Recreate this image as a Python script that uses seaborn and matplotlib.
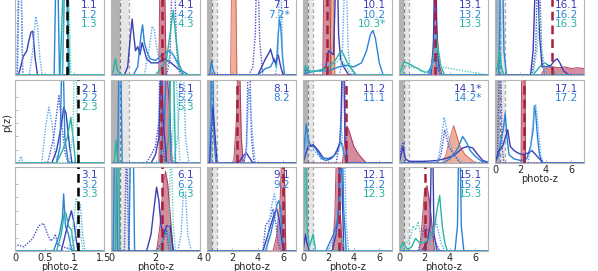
import numpy as np
import pandas as pd
import matplotlib
matplotlib.use("Agg")
import matplotlib.pyplot as plt
import seaborn as sns

sns.set_theme(style="white")
plt.rcParams['font.family'] = ['DejaVu Sans']

# ---------------- data: p(z) curves per panel (key = source.code + variant) ----------------
panel_1 = {
    "1.1a": ([0, 0.06, 0.14, 0.2, 0.23, 0.27, 0.30, 0.34, 0.38, 1.5], [0, 0, 0.23, 0.3, 0.41, 0.53, 0.54, 0.2, 0, 0]),
    "1.1b": ([0, 0.04, 0.07, 0.1, 0.13, 1.5], [0, 0, 1.3, 1.3, 0, 0]),
    "1.2b": ([0, 0.03, 0.06, 0.1, 0.13, 0.24, 0.3, 0.35, 0.38, 0.42, 0.46, 1.5], [0, 0, 1.3, 1.3, 0, 0, 0.3, 0.72, 0.6, 0.2, 0, 0]),
    "1.2a": ([0, 0.66, 0.69, 0.72, 0.75, 0.8, 0.84, 0.87, 0.9, 1.5], [0, 0, 1.3, 1.3, 0, 0, 1.3, 1.3, 0, 0]),
    "1.3a": ([0, 0.76, 0.82, 0.88, 0.92, 1.5], [0, 0, 1.3, 1.3, 0, 0]),
    "1.3b": ([0, 0.8, 0.84, 0.9, 0.94, 1.5], [0, 0, 1.3, 1.3, 0, 0]),
}
panel_2 = {
    "2.2b": ([0, 0.06, 0.1, 0.14, 0.2, 0.45, 0.52, 0.57, 0.62, 0.68, 0.72, 1.5], [0, 0, 0.08, 0, 0, 0, 0.45, 0.67, 0.5, 0.1, 0, 0]),
    "2.1b": ([0, 0.55, 0.65, 0.74, 0.78, 0.85, 0.9, 1.5], [0, 0, 0.3, 0.81, 0.5, 0.1, 0, 0]),
    "2.1a": ([0, 0.62, 0.7, 0.78, 0.82, 0.86, 0.92, 0.96, 1.5], [0, 0, 0.15, 0.45, 0.67, 0.6, 0.2, 0, 0]),
    "2.2a": ([0, 0.7, 0.76, 0.79, 0.81, 0.84, 0.9, 1.5], [0, 0, 0.2, 1.3, 1.3, 0.3, 0, 0]),
    "2.3a": ([0, 0.7, 0.8, 0.88, 0.94, 0.98, 1.02, 1.5], [0, 0, 0.15, 0.3, 0.55, 0.3, 0, 0]),
    "2.3b": ([0, 0.92, 0.98, 1.0, 1.03, 1.06, 1.5], [0, 0, 0.4, 1.3, 1.3, 0, 0]),
}
panel_3 = {
    "3.1b": ([0, 0.05, 0.15, 0.3, 0.4, 0.48, 0.55, 0.6, 0.65, 0.68, 0.72, 0.8, 0.9, 1.0, 1.5],
             [0.05, 0.07, 0.05, 0.15, 0.3, 0.33, 0.2, 0.12, 0.15, 0.2, 0.08, 0.05, 0.03, 0, 0]),
    "3.2a": ([0, 0.65, 0.75, 0.8, 0.82, 0.85, 0.9, 0.96, 1.5], [0, 0, 0.2, 0.4, 0.68, 0.3, 0.2, 0, 0]),
    "3.1a": ([0, 0.78, 0.85, 0.9, 0.95, 0.99, 1.02, 1.06, 1.5], [0, 0, 0.2, 0.35, 0.48, 0.35, 0.2, 0, 0]),
    "3.3a": ([0, 0.7, 0.78, 0.83, 0.86, 0.9, 0.95, 1.0, 1.5], [0, 0, 0.2, 0.45, 0.45, 0.3, 0.25, 0, 0]),
    "3.3b": ([0, 0.9, 0.98, 1.03, 1.06, 1.1, 1.15, 1.5], [0, 0, 0.3, 0.62, 0.55, 0.2, 0, 0]),
    "3.2b": ([0, 0.95, 1.02, 1.07, 1.1, 1.14, 1.18, 1.5], [0, 0, 0.2, 0.5, 0.55, 0.2, 0, 0]),
}
panel_4 = {
    "4.1a": ([0, 0.6, 0.75, 0.88, 0.95, 1.02, 1.1, 1.2, 1.3, 1.4, 1.5, 1.6, 1.8, 2.1, 2.4, 2.7, 3.0, 3.3, 4],
             [0, 0, 0.1, 0.5, 0.69, 0.5, 0.3, 0.35, 0.25, 0.4, 0.3, 0.2, 0.15, 0.15, 0.2, 0.15, 0.08, 0, 0]),
    "4.2a": ([0, 1.0, 1.2, 1.35, 1.42, 1.5, 1.6, 1.75, 2.0, 2.3, 2.6, 2.8, 3.0, 3.2, 3.5, 4],
             [0, 0, 0.1, 0.5, 0.62, 0.4, 0.3, 0.2, 0.18, 0.25, 0.3, 0.25, 0.15, 0.05, 0, 0]),
    "4.2b": ([0, 1.5, 1.7, 1.85, 1.95, 2.05, 2.2, 2.4, 4], [0, 0, 0.3, 0.6, 0.55, 0.35, 0.15, 0, 0]),
    "4.1b": ([0, 2.5, 2.65, 2.75, 2.85, 2.95, 3.1, 4], [0, 0, 0.2, 1.3, 1.3, 0.3, 0, 0]),
    "4.3a": ([0, 0.1, 0.2, 0.3, 0.5, 2.0, 2.3, 2.5, 2.65, 2.8, 2.9, 3.05, 3.2, 4],
             [0, 0.05, 0.2, 0.05, 0, 0, 0.1, 0.2, 0.5, 0.8, 0.5, 0.15, 0, 0]),
    "4.3b": ([0, 2.2, 2.5, 2.7, 2.85, 2.95, 3.1, 3.3, 4], [0, 0, 0.1, 0.3, 0.2, 0.15, 0.05, 0, 0]),
}
panel_5 = {
    "5.2a": ([0, 0.3, 0.36, 0.44, 0.5, 2.2, 2.4, 2.5, 2.6, 2.7, 4], [0, 0, 1.3, 1.3, 0, 0, 0.5, 1.3, 1.3, 0, 0]),
    "5.3a": ([0, 0.15, 0.22, 0.28, 0.35, 2.4, 2.6, 2.7, 2.8, 2.9, 4], [0, 0, 0.27, 0.1, 0, 0, 0.3, 1.3, 1.3, 0, 0]),
    "5.1a": ([0, 1.8, 2.0, 2.15, 2.25, 2.35, 2.5, 4], [0, 0, 0.1, 0.3, 1.3, 0.5, 0, 0]),
    "5.1b": ([0, 1.6, 1.8, 2.0, 2.15, 2.2, 2.3, 2.4, 4], [0, 0, 0.1, 0.2, 0.5, 1.3, 0.3, 0, 0]),
    "5.2b": ([0, 2.8, 3.0, 3.15, 3.25, 3.35, 3.5, 4], [0, 0, 0.3, 1.3, 1.3, 0.3, 0, 0]),
    "5.3b": ([0, 2.7, 2.8, 2.9, 3.0, 3.1, 4], [0, 0, 0.5, 1.3, 0.6, 0, 0]),
}
panel_6 = {
    "6.2a": ([0, 0.1, 0.16, 0.24, 0.3, 0.8, 0.88, 1.0, 1.06, 4], [0, 0, 1.3, 1.3, 0, 0, 1.3, 1.3, 0, 0]),
    "6.3a": ([0, 0.2, 0.26, 0.34, 0.4, 2.2, 2.4, 2.5, 2.6, 2.7, 4], [0, 0, 1.3, 1.3, 0, 0, 0.2, 0.25, 0.2, 0, 0]),
    "6.1a": ([0, 1.6, 1.8, 1.95, 2.05, 2.15, 2.25, 2.35, 2.5, 2.65, 2.8, 4], [0, 0, 0.2, 0.55, 0.76, 0.6, 0.3, 0.2, 0.3, 0.3, 0, 0]),
    "6.2b": ([0, 3.0, 3.15, 3.25, 3.35, 3.45, 3.6, 4], [0, 0, 0.2, 0.7, 0.7, 0.2, 0, 0]),
    "6.3b": ([0, 2.5, 2.6, 2.7, 2.8, 2.9, 4], [0, 0, 0.3, 1.3, 0.3, 0, 0]),
    "6.1b": ([0, 0.6, 0.7, 0.8, 2.0, 2.3, 2.5, 2.6, 4], [0, 0, 1.3, 0, 0, 0.1, 0.25, 0, 0]),
}
panel_7 = {
    "7.2a": ([0, 0.2, 0.35, 0.5, 0.7, 4.0, 4.6, 5.0, 5.3, 5.45, 5.6, 5.7, 5.8, 5.95, 6.1, 7],
             [0, 0, 0.17, 0.05, 0, 0, 0.08, 0.1, 0.2, 0.1, 0.5, 0.69, 0.6, 0.2, 0, 0]),
    "7.1b": ([0, 3.3, 3.6, 3.8, 3.9, 4.0, 4.15, 4.4, 7], [0, 0, 0.1, 0.5, 1.3, 1.3, 0.4, 0, 0]),
    "7.1a": ([0, 4.0, 4.3, 4.6, 4.9, 5.0, 5.2, 5.4, 5.6, 5.8, 6.0, 7], [0, 0, 0.1, 0.2, 0.28, 0.32, 0.2, 0.15, 0.25, 0.1, 0, 0]),
    "7.2b": ([0, 5.4, 5.6, 5.7, 5.8, 5.95, 6.1, 7], [0, 0, 0.3, 1.3, 1.3, 0.2, 0, 0]),
}
panel_8 = {
    "8.2a": ([0, 0.2, 0.3, 0.35, 0.45, 0.55, 0.7, 7], [0, 0, 0.5, 1.3, 1.3, 0.3, 0, 0]),
    "8.1a": ([0, 0.2, 0.35, 0.45, 0.55, 0.65, 0.8, 2.5, 2.8, 3.1, 3.4, 3.6, 7], [0, 0, 0.4, 0.67, 0.5, 0.3, 0, 0, 0.08, 0.12, 0.05, 0, 0]),
    "8.1b": ([0, 2.9, 3.1, 3.25, 3.35, 3.5, 3.7, 7], [0, 0, 0.2, 1.3, 1.3, 0.3, 0, 0]),
    "8.2b": ([0, 0.1, 0.2, 0.3, 0.4, 2.9, 3.1, 3.3, 3.45, 3.6, 3.8, 7], [0, 0, 0.4, 0.6, 0, 0, 0.15, 0.9, 0.6, 0.3, 0, 0]),
}
panel_9 = {
    "9.1a": ([0, 4.4, 4.8, 5.0, 5.3, 5.5, 5.7, 5.9, 6.0, 7], [0, 0, 0.2, 0.3, 0.45, 0.5, 0.35, 0.1, 0, 0]),
    "9.2a": ([0, 4.6, 5.0, 5.3, 5.5, 5.65, 5.8, 5.95, 6.05, 7], [0, 0, 0.2, 0.4, 0.55, 0.6, 0.5, 0.15, 0, 0]),
    "9.1b": ([0, 4.4, 4.6, 4.8, 5.0, 5.2, 5.4, 5.6, 5.8, 7], [0, 0, 0.3, 0.35, 0.4, 0.5, 0.35, 0.1, 0, 0]),
    "9.2b": ([0, 4.7, 4.9, 5.1, 5.3, 5.5, 5.7, 5.9, 7], [0, 0, 0.35, 0.55, 0.68, 0.5, 0.2, 0, 0]),
}
panel_10 = {
    "10.1a": ([0, 0.3, 0.5, 1.0, 1.5, 1.8, 2.0, 2.4, 2.6, 2.7, 2.8, 2.95, 3.2, 3.6, 7],
              [0, 0.08, 0.04, 0.05, 0.06, 0.1, 0.3, 0.25, 1.3, 1.3, 0.5, 0.2, 0.1, 0, 0]),
    "10.2b": ([0, 2.9, 3.1, 3.3, 3.4, 3.55, 3.7, 4.0, 7], [0, 0, 0.3, 1.3, 1.3, 0.3, 0.1, 0, 0]),
    "10.2a": ([0, 0.3, 1.0, 2.0, 2.8, 3.4, 4.0, 4.6, 5.0, 5.3, 5.5, 5.7, 6.0, 6.3, 7],
              [0, 0.03, 0.05, 0.05, 0.1, 0.12, 0.1, 0.15, 0.3, 0.5, 0.55, 0.45, 0.15, 0, 0]),
    "10.3a": ([0, 0.2, 0.4, 1.0, 1.8, 2.4, 2.8, 3.0, 3.2, 3.5, 3.8, 4.2, 7], [0, 0.12, 0.04, 0.05, 0.08, 0.15, 0.25, 0.3, 0.25, 0.15, 0.08, 0, 0]),
    "10.3b": ([0, 0.3, 0.6, 2.0, 2.6, 2.9, 3.1, 3.4, 3.8, 7], [0, 0.1, 0.05, 0.05, 0.15, 0.2, 0.18, 0.1, 0, 0]),
}
panel_11 = {
    "11.2a": ([0, 0.1, 0.25, 0.4, 0.6, 0.9, 1.2, 1.5, 1.8, 2.2, 2.5, 2.8, 3.0, 3.1, 3.3, 3.5, 7],
              [0, 0.2, 0.47, 0.3, 0.2, 0.2, 0.12, 0.05, 0.03, 0.05, 0.1, 0.2, 0.25, 0.2, 0.05, 0, 0]),
    "11.1a": ([0, 0.2, 0.4, 0.8, 1.2, 1.6, 2.0, 2.4, 2.7, 2.9, 3.0, 3.1, 3.2, 3.3, 3.5, 7],
              [0, 0.1, 0.2, 0.22, 0.15, 0.06, 0.05, 0.08, 0.15, 0.25, 0.6, 1.3, 1.3, 0.3, 0, 0]),
    "11.1b": ([0, 2.6, 2.8, 3.0, 3.15, 3.25, 3.35, 3.5, 7], [0, 0, 0.15, 0.4, 1.3, 1.3, 0.4, 0, 0]),
    "11.2b": ([0, 0.15, 0.3, 0.5, 0.9, 1.4, 2.0, 2.6, 2.9, 3.0, 3.1, 3.3, 7], [0, 0.15, 0.3, 0.15, 0.15, 0.05, 0.06, 0.1, 0.2, 0.5, 0.2, 0, 0]),
}
panel_12 = {
    "12.3a": ([0, 0.05, 0.12, 0.2, 0.3, 0.5, 0.7, 0.8, 0.9, 1.0, 7], [0, 0.3, 1.3, 1.3, 0.3, 0.05, 0.15, 0.2, 0.1, 0, 0]),
    "12.1a": ([0, 0.1, 0.2, 0.3, 0.5, 2.3, 2.6, 2.8, 2.9, 3.0, 3.2, 7], [0, 0.1, 0.2, 0.1, 0, 0, 0.2, 0.5, 1.3, 1.3, 0, 0]),
    "12.2a": ([0, 1.8, 2.1, 2.4, 2.7, 2.9, 3.0, 3.1, 3.2, 3.4, 7], [0, 0, 0.1, 0.2, 0.35, 0.8, 1.3, 1.3, 0.5, 0, 0]),
    "12.2b": ([0, 2.0, 2.4, 2.8, 3.0, 3.15, 3.25, 3.4, 3.6, 7], [0, 0, 0.15, 0.3, 0.6, 1.3, 1.3, 0.3, 0, 0]),
    "12.3b": ([0, 0.05, 0.1, 0.2, 0.3, 0.5, 0.8, 1.0, 2.6, 2.9, 3.1, 3.3, 7], [0, 0.5, 1.3, 0.6, 0.2, 0.05, 0.15, 0, 0, 0.1, 0.15, 0, 0]),
}
panel_13 = {
    "13.1a": ([0, 2.5, 2.7, 2.8, 2.9, 3.0, 3.2, 7], [0, 0, 0.3, 1.3, 1.3, 0.3, 0, 0]),
    "13.3a": ([0, 0.2, 0.4, 0.6, 0.9, 1.2, 1.5, 1.8, 2.2, 2.6, 2.9, 3.1, 3.3, 3.6, 7],
              [0, 0.08, 0.16, 0.15, 0.13, 0.1, 0.08, 0.05, 0.03, 0.1, 0.5, 0.3, 0.1, 0, 0]),
    "13.3b": ([0, 0.3, 0.6, 1.0, 1.4, 1.8, 2.4, 2.8, 3.0, 3.3, 7], [0, 0.05, 0.12, 0.1, 0.08, 0.04, 0.03, 0.2, 0.35, 0.1, 0]),
    "13.2a": ([0, 2.3, 2.6, 2.8, 2.9, 3.1, 3.3, 7], [0, 0, 0.15, 0.2, 0.15, 0.05, 0, 0]),
    "13.2b": ([0, 2.4, 2.7, 2.85, 3.0, 3.2, 7], [0, 0, 0.2, 0.6, 0.2, 0, 0]),
}
panel_14 = {
    "14.1a": ([0, 0.1, 0.3, 0.5, 0.8, 2.0, 3.0, 3.8, 4.4, 5.0, 5.4, 5.8, 6.2, 6.6, 7],
              [0, 0.05, 0.2, 0.05, 0.02, 0.02, 0.03, 0.06, 0.1, 0.18, 0.2, 0.18, 0.1, 0.03, 0.01]),
    "14.2a": ([0, 3.5, 4.0, 4.4, 4.7, 5.0, 5.3, 5.6, 6.0, 6.5, 7], [0, 0, 0.05, 0.12, 0.2, 0.32, 0.25, 0.15, 0.08, 0.02, 0]),
    "14.2b": ([0, 2.8, 3.1, 3.35, 3.55, 3.7, 3.9, 4.2, 4.6, 5.0, 7], [0, 0, 0.05, 0.3, 0.55, 0.45, 0.3, 0.15, 0.05, 0, 0]),
    "14.1b": ([0, 0.2, 0.35, 0.5, 3.0, 3.3, 3.6, 3.9, 4.3, 4.8, 7], [0, 0.2, 0.25, 0, 0, 0.1, 0.4, 0.2, 0.1, 0, 0]),
}
panel_15 = {
    "15.1a": ([0, 1.8, 2.2, 2.45, 2.55, 2.65, 2.75, 3.0, 7], [0, 0, 0.1, 0.3, 1.3, 1.3, 0.2, 0, 0]),
    "15.1b": ([0, 1.5, 1.8, 2.0, 2.3, 2.6, 2.9, 3.2, 7], [0, 0, 0.15, 0.3, 0.25, 0.2, 0.1, 0, 0]),
    "15.3a": ([0, 0.3, 0.5, 0.7, 1.0, 1.3, 1.6, 2.0, 2.4, 2.8, 3.0, 3.2, 3.4, 3.6, 3.8, 7],
              [0, 0.1, 0.05, 0.02, 0.05, 0.15, 0.1, 0.1, 0.15, 0.3, 0.5, 0.66, 0.3, 0.1, 0, 0]),
    "15.3b": ([0, 0.3, 0.6, 0.9, 1.1, 1.3, 1.5, 1.7, 1.9, 2.2, 2.6, 3.0, 7], [0, 0.05, 0.1, 0.15, 0.3, 0.25, 0.35, 0.2, 0.1, 0.05, 0.1, 0, 0]),
    "15.2a": ([0, 4.4, 4.6, 4.7, 4.8, 4.9, 5.1, 7], [0, 0, 0.3, 1.3, 1.3, 0.3, 0, 0]),
    "15.2b": ([0, 2.2, 2.5, 2.7, 2.9, 3.0, 3.3, 3.6, 7], [0, 0, 0.15, 0.2, 0.35, 0.3, 0.1, 0, 0]),
}
panel_16 = {
    "16.2a": ([0, 0.3, 0.45, 0.6, 0.7, 0.9, 7], [0, 0, 1.3, 1.3, 0.3, 0, 0]),
    "16.2b": ([0, 0.1, 0.2, 0.4, 0.5, 7], [0, 0.5, 1.3, 1.3, 0, 0]),
    "16.3a": ([0, 0.2, 0.35, 0.5, 0.7, 3.0, 3.5, 3.9, 4.1, 4.4, 4.8, 7], [0, 0.1, 0.3, 0.1, 0, 0, 0.1, 0.15, 0.13, 0.1, 0, 0]),
    "16.1a": ([0, 2.8, 3.0, 3.2, 3.35, 3.5, 3.7, 4.0, 4.4, 4.7, 4.9, 5.1, 5.4, 5.8, 7],
              [0, 0, 0.3, 1.3, 1.3, 0.5, 0.1, 0.1, 0.12, 0.18, 0.2, 0.15, 0.05, 0, 0]),
    "16.1b": ([0, 2.9, 3.2, 3.35, 3.5, 3.65, 3.9, 7], [0, 0, 0.3, 1.3, 1.3, 0.3, 0, 0]),
    "16.3b": ([0, 3.0, 3.3, 3.5, 3.7, 4.0, 7], [0, 0, 0.3, 0.8, 0.3, 0, 0]),
}
panel_17 = {
    "17.1b": ([0, 0.2, 0.35, 0.45, 0.55, 0.7, 7], [0, 0.1, 1.3, 1.3, 0.2, 0, 0]),
    "17.2a": ([0, 0.3, 0.5, 0.65, 0.8, 0.95, 1.1, 1.5, 2.0, 2.5, 2.8, 3.0, 3.1, 3.2, 3.35, 3.5, 3.7, 7],
              [0, 0.1, 0.3, 0.4, 0.6, 0.3, 0.1, 0.05, 0.03, 0.05, 0.2, 0.4, 0.69, 0.6, 0.3, 0.1, 0, 0]),
    "17.1a": ([0, 0.3, 0.6, 0.8, 1.0, 1.2, 1.5, 1.8, 2.2, 2.6, 2.9, 3.2, 3.5, 3.8, 7],
              [0, 0.15, 0.2, 0.3, 0.4, 0.2, 0.15, 0.12, 0.1, 0.12, 0.15, 0.1, 0.05, 0, 0]),
    "17.2b": ([0, 2.6, 2.8, 3.0, 3.1, 3.2, 3.3, 3.4, 3.6, 3.8, 7], [0, 0, 0.2, 0.5, 0.65, 0.7, 0.6, 0.4, 0.1, 0, 0]),
}

# posterior fills: (kind, z, p)   kind: 'red' or 'salmon'
post_4 = [("red", [0, 2.15, 2.2, 2.3, 2.4, 2.48, 4], [0, 0, 1.3, 1.3, 1.3, 0, 0])]
post_5 = [("red", [0, 2.15, 2.25, 2.45, 2.6, 2.75, 4], [0, 0, 1.3, 1.3, 0.8, 0, 0])]
post_6 = [("red", [0, 2.05, 2.2, 2.35, 2.45, 2.55, 2.7, 2.8, 4], [0, 0, 0.3, 0.8, 0.95, 0.8, 0.3, 0, 0])]
post_7 = [("salmon", [0, 1.85, 1.95, 2.25, 2.35, 7], [0, 0, 1.3, 1.3, 0, 0])]
post_8 = [("red", [0, 2.1, 2.3, 2.45, 2.55, 2.7, 2.85, 7], [0, 0, 0.5, 1.3, 1.3, 0.3, 0, 0])]
post_9 = [("red", [0, 5.2, 5.5, 5.75, 5.9, 6.05, 6.2, 7], [0, 0, 0.2, 0.6, 1.3, 1.3, 0, 0])]
post_10 = [("red", [0, 1.55, 1.65, 2.1, 2.2, 7], [0, 0, 1.3, 1.3, 0, 0]),
           ("salmon", [0, 2.15, 2.25, 2.4, 2.5, 7], [0, 0, 1.3, 1.3, 0, 0])]
post_11 = [("red", [0, 3.1, 3.3, 3.45, 3.6, 3.8, 4.0, 4.4, 4.8, 5.0, 7], [0, 0, 0.3, 0.45, 0.4, 0.3, 0.2, 0.1, 0.03, 0, 0])]
post_12 = [("red", [0, 2.3, 2.5, 2.65, 2.8, 2.95, 3.1, 7], [0, 0, 0.4, 1.3, 1.3, 0.4, 0, 0])]
post_13 = [("red", [0, 2.5, 2.7, 2.85, 3.0, 3.2, 3.4, 7], [0, 0, 0.4, 0.95, 0.5, 0.1, 0, 0])]
post_14 = [("salmon", [0, 3.4, 3.7, 4.0, 4.3, 4.5, 4.8, 5.2, 5.6, 6.0, 7], [0, 0, 0.1, 0.3, 0.45, 0.35, 0.2, 0.1, 0.05, 0, 0])]
post_15 = [("red", [0, 1.6, 1.8, 2.0, 2.2, 2.4, 2.6, 2.8, 7], [0, 0, 0.3, 0.7, 0.78, 0.6, 0.3, 0, 0])]
post_16 = [("red", [0, 3.6, 3.8, 4.0, 4.5, 5.0, 5.5, 6.0, 6.5, 7], [0, 0, 0.05, 0.08, 0.1, 0.09, 0.1, 0.08, 0.09, 0.08])]
post_17 = [("red", [0, 2.05, 2.1, 2.35, 2.4, 7], [0, 0, 1.3, 1.3, 0, 0])]

# spectroscopic redshifts (dashed vertical lines)
zspec = {1: 0.88, 2: 1.06, 3: 1.06, 4: 2.3, 5: 2.25, 6: 2.3, 8: 2.35, 9: 5.95,
         10: 1.9, 11: 3.4, 12: 2.8, 13: 2.85, 15: 2.05, 16: 4.5, 17: 2.3}

labels = {1: ["1.1", "1.2", "1.3"], 2: ["2.1", "2.2", "2.3"], 3: ["3.1", "3.2", "3.3"],
          4: ["4.1", "4.2", "4.3"], 5: ["5.1", "5.2", "5.3"], 6: ["6.1", "6.2", "6.3"],
          7: ["7.1", "7.2*"], 8: ["8.1", "8.2"], 9: ["9.1", "9.2"],
          10: ["10.1", "10.2", "10.3*"], 11: ["11.2", "11.1"], 12: ["12.1", "12.2", "12.3"],
          13: ["13.1", "13.2", "13.3"], 14: ["14.1*", "14.2*"], 15: ["15.1", "15.2", "15.3"],
          16: ["16.1", "16.2", "16.3"], 17: ["17.1", "17.2"]}

panels = {1: panel_1, 2: panel_2, 3: panel_3, 4: panel_4, 5: panel_5, 6: panel_6,
          7: panel_7, 8: panel_8, 9: panel_9, 10: panel_10, 11: panel_11, 12: panel_12,
          13: panel_13, 14: panel_14, 15: panel_15, 16: panel_16, 17: panel_17}
posts = {4: post_4, 5: post_5, 6: post_6, 7: post_7, 8: post_8, 9: post_9, 10: post_10,
         11: post_11, 12: post_12, 13: post_13, 14: post_14, 15: post_15, 16: post_16, 17: post_17}

# ---------------- styling ----------------
W, H = 598, 271
col_left = [15, 111, 207, 303, 399, 495]
col_w = 89
rows = [(-6, 75), (80, 163), (167, 251)]
xlims = [1.5, 4, 7, 7, 7, 7]
xticks = [[0, 0.5, 1, 1.5], [0, 2, 4], [0, 2, 4, 6], [0, 2, 4, 6], [0, 2, 4, 6], [0, 2, 4, 6]]
xticklabels = [["0", "0.5", "1", "1.5"], ["0", "2", "4"]] + [["0", "2", "4", "6"]] * 4

solid_col = {1: "#3b3fb6", 2: "#2a84d6", 3: "#27b3a3"}
dot_col = {1: "#4a50cc", 2: "#5aa7ea", 3: "#62cbc3"}
label_col = {0: "#3b3fb6", 1: "#2a84d6", 2: "#27b3a3"}
fill_col = {"red": "#b8405e", "salmon": "#e47c58"}
edge_col = {"red": "#a0203e", "salmon": "#c8503a"}

fig = plt.figure(figsize=(W / 100, H / 100), dpi=100)

for n in range(1, 18):
    col = (n - 1) // 3
    row = (n - 1) % 3
    top, bot = rows[row]
    ax = fig.add_axes([col_left[col] / W, 1 - bot / H, col_w / W, (bot - top) / H])
    xmax = xlims[col]
    ax.set_xlim(0, xmax)
    ax.set_ylim(0, 1.0)

    if col > 0:
        ax.axvspan(0, 0.42, color="#b3b3b3", lw=0, zorder=0)
        ax.axvspan(0.42, 0.8, color="#e6e6e6", lw=0, zorder=0)
        ax.axvline(0.42, color="#808080", lw=0.9, ls=(0, (3, 2)), zorder=0.5)
        ax.axvline(0.8, color="#a8a8a8", lw=0.9, ls=(0, (3, 2)), zorder=0.5)

    for kind, z, p in posts.get(n, []):
        ax.fill_between(z, p, color=fill_col[kind], alpha=0.6, lw=0, zorder=1)
        ax.plot(z, p, color=edge_col[kind], lw=0.7, alpha=0.8, zorder=1.1)

    for key, (z, p) in panels[n].items():
        src = int(key.split(".")[1][0])
        variant = key[-1]
        df = pd.DataFrame({"z": z, "p": p})
        if variant == "a":
            sns.lineplot(data=df, x="z", y="p", ax=ax, sort=False, estimator=None,
                         color=solid_col[src], lw=1.0, zorder=2)
        else:
            sns.lineplot(data=df, x="z", y="p", ax=ax, sort=False, estimator=None,
                         color=dot_col[src], lw=1.0, linestyle=(0, (1, 1)), zorder=2)

    if n in zspec:
        c = "black" if col == 0 else "#a8203c"
        ax.axvline(zspec[n], color=c, lw=1.8, ls=(0, (3.5, 2)), zorder=3)

    first = max(3.5, -top + 0.5)
    for i, t in enumerate(labels[n]):
        ax.text(0.93, 1.0 - (first + 9.4 * i) / (bot - top), t, transform=ax.transAxes,
                ha="right", va="top", fontsize=7.5, color=label_col[i])

    ax.set_xlabel("")
    ax.set_ylabel("")
    for s in ax.spines.values():
        s.set_color("#b5b5b5")
        s.set_linewidth(0.8)
    ax.set_yticks([0.16, 0.32, 0.48, 0.64, 0.80])
    ax.set_yticklabels([])
    ax.set_xticks(xticks[col])
    ax.tick_params(axis="both", direction="in", length=2, width=0.6, color="#b5b5b5",
                   labelsize=7, labelcolor="#262626", pad=1.5, left=True, bottom=True)
    if row == 2 or n == 17:
        ax.set_xticklabels(xticklabels[col])
        ax.set_xlabel("photo-z", fontsize=7, labelpad=-0.5, color="#262626")
    else:
        ax.set_xticklabels([])

fig.text(7 / W, 1 - 123 / H, "p(z)", rotation=90, ha="center", va="center", fontsize=7, color="#262626")

fig.savefig("out.png", dpi=100)
